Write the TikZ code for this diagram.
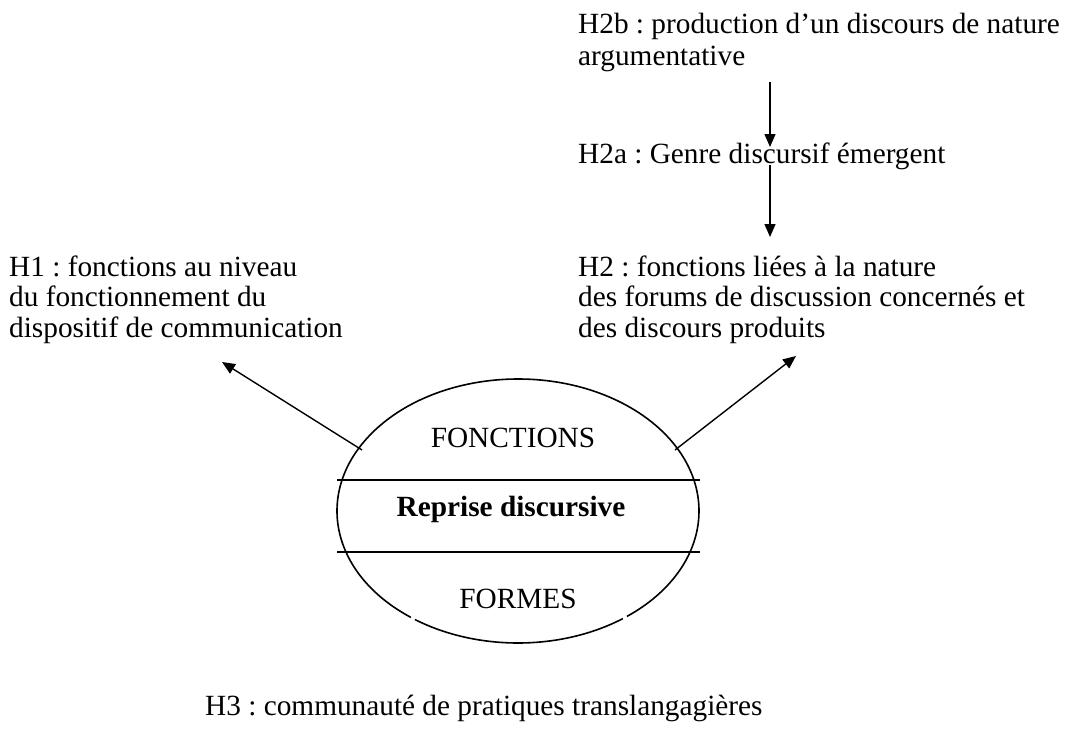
\documentclass[tikz,border=0pt]{standalone}
\usepackage{fontspec}
\setmainfont{Liberation Serif}
\usetikzlibrary{arrows.meta}
\frenchspacing
\begin{document}
\begin{tikzpicture}[x=1pt,y=-1pt,
  txt/.style={inner sep=0pt, anchor=base west, font=\fontsize{29.3}{30.5}\selectfont},
  ctr/.style={inner sep=0pt, anchor=base, font=\fontsize{29.3}{30.5}\selectfont},
  link/.style={line width=1.4pt, -{Triangle[length=13pt,width=11pt]}},
  ell/.style={line width=1.6pt},
  sep/.style={line width=1.5pt}]
\useasboundingbox (0,0) rectangle (1066,729);
% top chain
\node[txt] (h2b) at (578,33) {H2b : production d’un discours de nature};
\node[txt] (h2bb) at (578,65) {argumentative};
\node[txt] (h2a) at (578,163) {H2a : Genre discursif émergent};
% H1 block
\node[txt] (h1) at (9,276) {H1 : fonctions au niveau};
\node[txt] (h1b) at (9,306.5) {du fonctionnement du};
\node[txt] (h1c) at (9,337) {dispositif de communication};
% H2 block
\node[txt] (h2) at (578,276) {H2 : fonctions liées à la nature};
\node[txt] (h2c) at (578,306.5) {des forums de discussion concernés et};
\node[txt] (h2d) at (578,337) {des discours produits};
% H3
\node[txt] (h3) at (205,715) {H3 : communauté de pratiques translangagières};
% ellipse with two small breaks
\coordinate (c) at (518,511);
\draw[ell] ([shift={(c)}] 54.6:181 and 132) arc[start angle=54.6, end angle=124.7, x radius=181, y radius=132];
\draw[ell] ([shift={(c)}] 126.3:181 and 132) arc[start angle=126.3, end angle=413.0, x radius=181, y radius=132];
\coordinate (s1l) at (337,480); \coordinate (s1r) at (700,480);
\coordinate (s2l) at (337,552); \coordinate (s2r) at (700,552);
\draw[sep] (s1l) -- (s1r);
\draw[sep] (s2l) -- (s2r);
\node[ctr] (fonc) at (513,447) {FONCTIONS};
\node[ctr] (rep) at (511,516) {\bfseries Reprise discursive};
\node[ctr] (form) at (518,608) {FORMES};
% arrows
\coordinate (a1s) at (770,82); \coordinate (a1e) at (770,147);
\coordinate (a2s) at (770,165); \coordinate (a2e) at (770,237);
\draw[link] (a1s) -- (a1e);
\draw[link] (a2s) -- (a2e);
\coordinate (lS) at (362,450); \coordinate (lE) at (222,362);
\coordinate (rS) at (675,450); \coordinate (rE) at (796,356);
\draw[link] (lS) -- (lE);
\draw[link] (rS) -- (rE);
\end{tikzpicture}
\end{document}
